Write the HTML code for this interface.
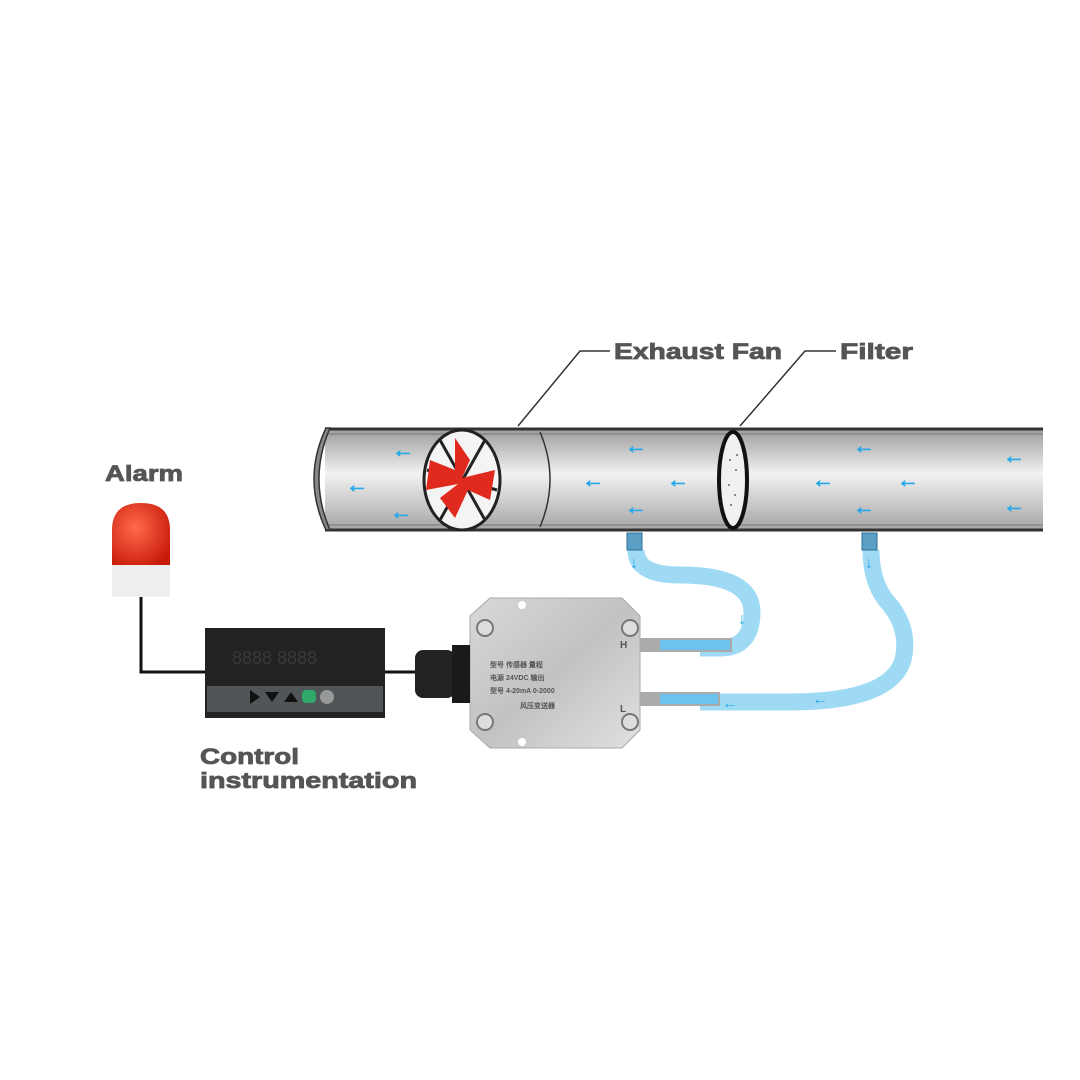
<!DOCTYPE html>
<html><head><meta charset="utf-8"><style>
html,body{margin:0;padding:0;background:#fff;}
svg{display:block}
text{font-family:"Liberation Sans",Arial,sans-serif;font-weight:bold;fill:#555}
</style></head><body>
<svg width="1080" height="1080" viewBox="0 0 1080 1080" xmlns="http://www.w3.org/2000/svg">
<defs>
<linearGradient id="pipe" x1="0" y1="0" x2="0" y2="1">
<stop offset="0" stop-color="#9a9a9a"/><stop offset="0.45" stop-color="#f2f2f2"/><stop offset="1" stop-color="#a5a5a5"/>
</linearGradient>
<linearGradient id="box" x1="0" y1="0" x2="1" y2="1">
<stop offset="0" stop-color="#d8d8d8"/><stop offset="0.5" stop-color="#c2c2c2"/><stop offset="1" stop-color="#e0e0e0"/>
</linearGradient>
<radialGradient id="red" cx="0.4" cy="0.4" r="0.7">
<stop offset="0" stop-color="#ff6a4a"/><stop offset="1" stop-color="#c81a0a"/>
</radialGradient>
</defs>

<!-- labels -->
<g stroke="#555" stroke-width="0.8">
<text x="614" y="359" font-size="22" textLength="168" lengthAdjust="spacingAndGlyphs">Exhaust Fan</text>
<text x="840" y="359" font-size="22" textLength="73" lengthAdjust="spacingAndGlyphs">Filter</text>
<text x="105" y="481" font-size="22" textLength="78" lengthAdjust="spacingAndGlyphs">Alarm</text>
<text x="200" y="764" font-size="22" textLength="99" lengthAdjust="spacingAndGlyphs">Control</text>
<text x="200" y="788" font-size="22" textLength="217" lengthAdjust="spacingAndGlyphs">instrumentation</text>
</g>
<polyline points="518,426 580,351 610,351" fill="none" stroke="#333" stroke-width="1.5"/>
<polyline points="740,426 805,351 836,351" fill="none" stroke="#333" stroke-width="1.5"/>

<!-- pipe -->
<rect x="325" y="428" width="718" height="102" fill="url(#pipe)"/>
<line x1="325" y1="429" x2="1043" y2="429" stroke="#333" stroke-width="3"/>
<line x1="325" y1="530" x2="1043" y2="530" stroke="#333" stroke-width="3"/>
<line x1="325" y1="434" x2="1043" y2="434" stroke="#777" stroke-width="1"/>
<line x1="325" y1="525" x2="1043" y2="525" stroke="#777" stroke-width="1"/>
<path d="M330,428 Q308,479 330,530 L326,530 Q302,479 326,428 Z" fill="#888" stroke="#333" stroke-width="1.5"/>
<path d="M540,432 Q560,479 540,527" fill="none" stroke="#333" stroke-width="1.5"/>
<!-- fan -->
<ellipse cx="462" cy="480" rx="38" ry="50" fill="#f4f4f4" stroke="#222" stroke-width="3"/>
<g stroke="#222" stroke-width="3"><line x1="440" y1="440" x2="485" y2="520"/><line x1="485" y1="440" x2="440" y2="520"/><line x1="427" y1="470" x2="497" y2="490"/></g>
<path d="M455,438 L470,460 L462,478 L495,470 L490,500 L468,490 L455,518 L440,498 L458,484 L426,490 L430,460 L455,470 Z" fill="#e02a1e"/>
<!-- filter -->
<ellipse cx="733" cy="480" rx="14" ry="48" fill="#f0f0f0" stroke="#111" stroke-width="4"/>
<g fill="#666"><circle cx="730" cy="460" r="1"/><circle cx="736" cy="470" r="1"/><circle cx="729" cy="485" r="1"/><circle cx="735" cy="495" r="1"/><circle cx="731" cy="505" r="1"/><circle cx="737" cy="455" r="1"/></g>
<!-- flow arrows -->
<g font-size="22" font-family="DejaVu Sans" style="font-weight:bold" stroke="#29a8e8" stroke-width="0.8">
<text x="392" y="457" style="fill:#29a8e8">←</text>
<text x="346" y="492" style="fill:#29a8e8">←</text>
<text x="390" y="519" style="fill:#29a8e8">←</text>
<text x="625" y="453" style="fill:#29a8e8">←</text>
<text x="582" y="487" style="fill:#29a8e8">←</text>
<text x="667" y="487" style="fill:#29a8e8">←</text>
<text x="625" y="514" style="fill:#29a8e8">←</text>
<text x="853" y="453" style="fill:#29a8e8">←</text>
<text x="812" y="487" style="fill:#29a8e8">←</text>
<text x="897" y="487" style="fill:#29a8e8">←</text>
<text x="853" y="514" style="fill:#29a8e8">←</text>
<text x="1003" y="463" style="fill:#29a8e8">←</text>
<text x="1003" y="512" style="fill:#29a8e8">←</text>
</g>

<!-- tubes -->
<path d="M636,550 Q636,575 680,575 Q752,575 752,612 Q752,648 720,648 L700,648" fill="none" stroke="#9fdaf5" stroke-width="17"/>
<path d="M871,550 Q871,585 890,605 Q910,630 903,660 Q890,702 790,702 L700,702" fill="none" stroke="#9fdaf5" stroke-width="17"/>
<rect x="627" y="533" width="15" height="17" fill="#5b9fc4" stroke="#2b6f95"/>
<rect x="862" y="533" width="15" height="17" fill="#5b9fc4" stroke="#2b6f95"/>
<g font-size="16" font-family="DejaVu Sans" style="font-weight:bold">
<text x="630" y="568" style="fill:#29a8e8">↓</text>
<text x="865" y="568" style="fill:#29a8e8">↓</text>
<text x="738" y="624" style="fill:#29a8e8">↓</text>
<text x="812" y="704" style="fill:#29a8e8">←</text>
<text x="722" y="708" style="fill:#29a8e8">←</text>
</g>
<!-- fittings -->
<rect x="640" y="638" width="92" height="14" fill="#aaa"/>
<rect x="660" y="640" width="70" height="10" fill="#6cc4ee"/>
<rect x="640" y="692" width="80" height="14" fill="#aaa"/>
<rect x="660" y="694" width="58" height="10" fill="#6cc4ee"/>

<!-- sensor box -->
<path d="M490,598 L622,598 L640,616 L640,730 L622,748 L490,748 L470,730 L470,616 Z" fill="url(#box)" stroke="#aaa"/>
<g fill="#ddd" stroke="#777" stroke-width="2">
<circle cx="485" cy="628" r="8"/><circle cx="630" cy="628" r="8"/><circle cx="485" cy="722" r="8"/><circle cx="630" cy="722" r="8"/></g>
<circle cx="522" cy="605" r="4" fill="#fff"/><circle cx="522" cy="742" r="4" fill="#fff"/>
<g fill="#fff" font-size="7" style="font-weight:normal"><text x="490" y="667">型号 传感器 量程</text><text x="490" y="680">电源 24VDC 输出</text><text x="490" y="693">型号 4-20mA 0-2000</text><text x="520" y="708">风压变送器</text><text x="620" y="648" font-size="10">H</text><text x="620" y="712" font-size="10">L</text></g>

<!-- cable gland -->
<rect x="415" y="650" width="40" height="48" rx="8" fill="#222"/>
<rect x="452" y="645" width="18" height="58" fill="#1a1a1a"/>
<line x1="385" y1="672" x2="415" y2="672" stroke="#111" stroke-width="3"/>

<!-- alarm -->
<path d="M112,565 L112,530 Q112,503 141,503 Q170,503 170,530 L170,565 Z" fill="url(#red)"/>
<rect x="112" y="565" width="58" height="32" fill="#eeeeee"/>
<polyline points="141,597 141,672 205,672" fill="none" stroke="#111" stroke-width="3"/>

<!-- controller -->
<rect x="205" y="628" width="180" height="90" fill="#222"/>
<rect x="207" y="686" width="176" height="26" fill="#505558"/>
<text x="232" y="664" font-size="18" font-family="Liberation Mono" style="fill:#3a3a3a;font-weight:normal">8888 8888</text>
<polygon points="250,690 260,697 250,704" fill="#111"/>
<polygon points="265,692 279,692 272,702" fill="#111"/>
<polygon points="284,702 298,702 291,692" fill="#111"/>
<rect x="302" y="690" width="14" height="13" rx="4" fill="#2fa86a"/>
<circle cx="327" cy="697" r="7" fill="#999"/>
</svg>
</body></html>
